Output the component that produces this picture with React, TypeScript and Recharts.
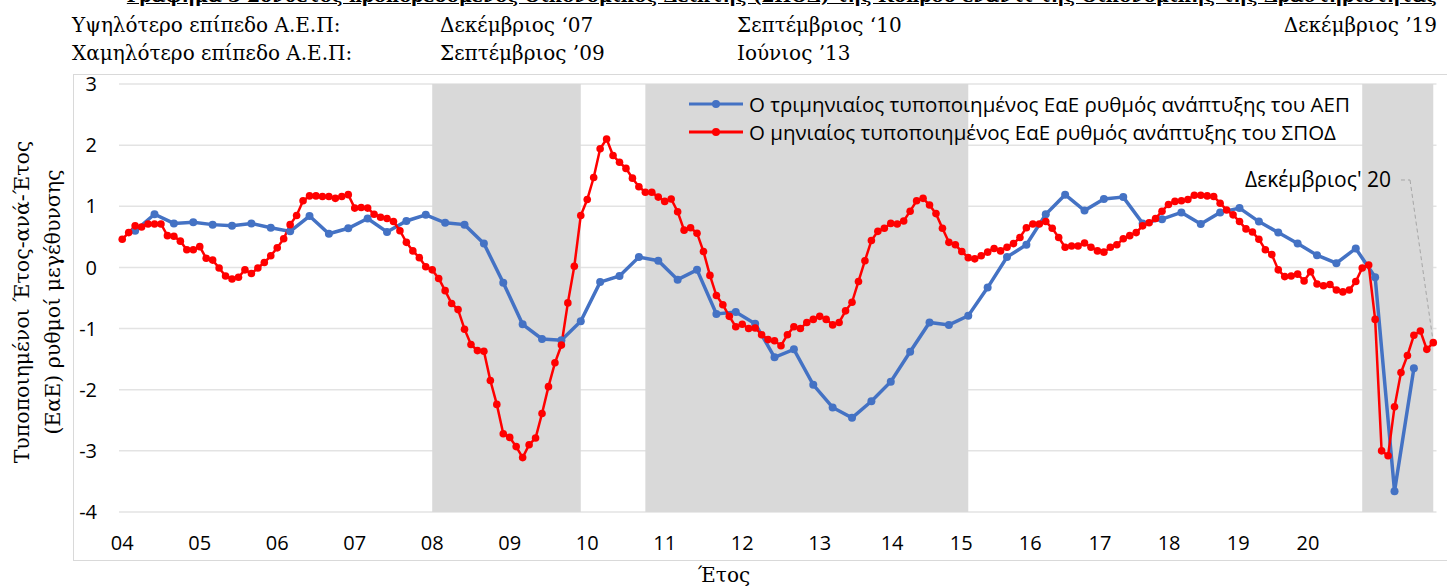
import React from "react";
import {
  CartesianGrid,
  Legend,
  Line,
  LineChart,
  ReferenceArea,
  ReferenceLine,
  XAxis,
  YAxis,
} from "recharts";

// monthly standardised y-o-y growth of the composite leading indicator, Jan 2004 .. Dec 2020
const spodMonthly = [
  0.46, 0.57, 0.68, 0.66, 0.71, 0.71, 0.71, 0.52, 0.51, 0.43, 0.29, 0.29,
  0.34, 0.15, 0.12, -0.01, -0.14, -0.19, -0.16, -0.04, -0.1, -0.01, 0.08, 0.19,
  0.32, 0.47, 0.7, 0.85, 1.09, 1.17, 1.17, 1.16, 1.16, 1.13, 1.16, 1.19,
  0.97, 0.98, 0.97, 0.87, 0.82, 0.8, 0.75, 0.6, 0.41, 0.27, 0.16, 0.01,
  -0.04, -0.18, -0.38, -0.59, -0.69, -1.01, -1.26, -1.36, -1.37, -1.85, -2.24, -2.72,
  -2.78, -2.93, -3.11, -2.9, -2.79, -2.39, -1.95, -1.56, -1.27, -0.58, 0.02, 0.85,
  1.11, 1.47, 1.94, 2.1, 1.83, 1.72, 1.62, 1.46, 1.32, 1.23, 1.23, 1.15,
  1.08, 1.12, 0.91, 0.61, 0.65, 0.56, 0.26, -0.13, -0.46, -0.61, -0.8, -0.97,
  -0.93, -1.0, -0.99, -1.1, -1.18, -1.2, -1.28, -1.1, -0.97, -1.0, -0.9, -0.85,
  -0.8, -0.85, -0.94, -0.9, -0.71, -0.57, -0.23, 0.11, 0.44, 0.59, 0.64, 0.72,
  0.71, 0.76, 0.92, 1.09, 1.13, 1.02, 0.88, 0.64, 0.41, 0.37, 0.26, 0.16,
  0.14, 0.19, 0.25, 0.31, 0.27, 0.33, 0.39, 0.49, 0.65, 0.71, 0.71, 0.75,
  0.64, 0.49, 0.33, 0.35, 0.35, 0.4, 0.33, 0.27, 0.25, 0.33, 0.37, 0.47,
  0.52, 0.57, 0.68, 0.73, 0.8, 0.92, 1.03, 1.08, 1.09, 1.11, 1.18, 1.18,
  1.17, 1.16, 1.05, 0.94, 0.86, 0.75, 0.63, 0.58, 0.46, 0.29, 0.21, -0.04,
  -0.15, -0.14, -0.11, -0.22, -0.07, -0.27, -0.3, -0.28, -0.37, -0.4, -0.37, -0.23,
  -0.01, 0.04, -0.85, -3.0, -3.08, -2.28, -1.72, -1.44, -1.11, -1.04, -1.34, -1.23,
];

// quarterly standardised y-o-y GDP growth, Q1 2004 .. Q3 2020 (plotted at the quarter's last month)
const gdpQuarterly = [
  0.6, 0.87, 0.72, 0.74, 0.7, 0.68, 0.72, 0.65, 0.59, 0.84, 0.55, 0.64,
  0.8, 0.58, 0.76, 0.86, 0.73, 0.7, 0.39, -0.25, -0.93, -1.17, -1.19, -0.88,
  -0.24, -0.14, 0.17, 0.11, -0.2, -0.04, -0.76, -0.73, -0.92, -1.47, -1.34, -1.92,
  -2.29, -2.46, -2.19, -1.87, -1.38, -0.9, -0.94, -0.79, -0.33, 0.17, 0.37, 0.87,
  1.19, 0.93, 1.12, 1.15, 0.72, 0.79, 0.9, 0.71, 0.9, 0.97, 0.75, 0.57,
  0.39, 0.2, 0.07, 0.31, -0.16, -3.66, -1.65,
];
const gdpFirstMonth = 2;

const yearLabels = ["04", "05", "06", "07", "08", "09", "10", "11", "12", "13", "14", "15", "16", "17", "18", "19", "20"];
// where each year label sits on the month axis in the original
const yearLabelAt = [0, 12, 24, 36, 48, 60, 72, 84, 96, 108, 119.2, 129.9, 140.6, 151.4, 162.1, 172.8, 183.6];

const yTicks = [-4, -3, -2, -1, 0, 1, 2, 3];

// shaded periods (month index from / to)
const shaded = [
  { from: 48, to: 71 },
  { from: 81, to: 131 },
  { from: 192, to: 203 },
];

const gdpName = "Ο τριμηνιαίος τυποποιημένος ΕαΕ ρυθμός ανάπτυξης του ΑΕΠ";
const spodName = "Ο μηνιαίος τυποποιημένος ΕαΕ ρυθμός ανάπτυξης του ΣΠΟΔ";
const seriesOrder = [gdpName, spodName];

const data = spodMonthly.map((v, i) => {
  const q = i - gdpFirstMonth;
  const gdp = q >= 0 && q % 3 === 0 ? gdpQuarterly[q / 3] ?? null : null;
  return { m: i, spod: v, gdp };
});

const sans = "'Open Sans', sans-serif";
const serif = "'DejaVu Serif', serif";

const renderLegend = (props: any) => {
  const items = [...props.payload].sort(
    (a: any, b: any) => seriesOrder.indexOf(a.value) - seriesOrder.indexOf(b.value)
  );
  return (
    <div style={{ fontFamily: sans, fontSize: 20.5, color: "#000" }}>
      {items.map((p: any) => (
        <div key={p.value} style={{ display: "flex", alignItems: "center", height: 28 }}>
          <svg width={56} height={14} style={{ marginRight: 5 }}>
            <line x1={1} y1={7} x2={55} y2={7} stroke={p.color} strokeWidth={3} />
            <circle cx={28} cy={7} r={4} fill={p.color} />
          </svg>
          <span style={{ whiteSpace: "nowrap" }}>{p.value}</span>
        </div>
      ))}
    </div>
  );
};

const headerStyle: React.CSSProperties = {
  position: "absolute",
  fontFamily: serif,
  fontSize: 20,
  lineHeight: "22px",
  whiteSpace: "nowrap",
};

const headerText = (text: string, left: number, top: number) => (
  <div style={{ ...headerStyle, left, top }}>{text}</div>
);

export default function App() {
  return (
    <div style={{ position: "relative", width: 1447, height: 587, overflow: "hidden", background: "#fff" }}>
      <style>{"body{margin:0}"}</style>
      <div
        style={{
          position: "absolute",
          right: 10,
          top: -15,
          fontFamily: serif,
          fontSize: 18,
          fontWeight: "bold",
          textDecoration: "underline",
          whiteSpace: "nowrap",
          lineHeight: "22px",
        }}
      >
        Γράφημα 3 Σύνθετος προπορευόμενος Οικονομικός Δείκτης (ΣΠΟΔ) της Κύπρου έναντι της Οικονομικής της Δραστηριότητας
      </div>
      {headerText("Υψηλότερο επίπεδο Α.Ε.Π:", 72, 14)}
      {headerText("Χαμηλότερο επίπεδο Α.Ε.Π:", 72, 42)}
      {headerText("Δεκέμβριος ‘07", 440, 14)}
      {headerText("Σεπτέμβριος ’09", 440, 42)}
      {headerText("Σεπτέμβριος ‘10", 737, 14)}
      {headerText("Ιούνιος ’13", 737, 42)}
      <div style={{ ...headerStyle, right: 10, top: 14 }}>Δεκέμβριος ’19</div>
      <div
        style={{
          position: "absolute",
          left: 73,
          top: 74,
          width: 1400,
          height: 485,
          border: "1.5px solid #d9d9d9",
        }}
      />
      <div style={{ position: "absolute", left: 0, top: 0 }}>
        <LineChart
          width={1447}
          height={587}
          data={data}
          margin={{ top: 84, right: 10.5, bottom: 45, left: 69 }}
        >
          {shaded.map((s) => (
            <ReferenceArea
              key={s.from}
              x1={s.from}
              x2={s.to}
              y1={-4}
              y2={3}
              fill="#d9d9d9"
              fillOpacity={1}
              stroke="none"
            />
          ))}
          <CartesianGrid vertical={false} stroke="#e3e3e3" strokeWidth={1.5} />
          <XAxis
            type="number"
            dataKey="m"
            domain={[-0.5, 203.5]}
            ticks={yearLabelAt}
            interval={0}
            tickFormatter={(v: number) => yearLabels[yearLabelAt.indexOf(v)]}
            axisLine={false}
            tickLine={false}
            tickSize={0}
            tickMargin={24}
            height={30}
            tick={{ fontFamily: sans, fontSize: 20, fill: "#000" }}
          />
          <YAxis
            type="number"
            domain={[-4, 3]}
            ticks={yTicks}
            interval={0}
            axisLine={false}
            tickLine={false}
            tickSize={0}
            tickMargin={22}
            width={50}
            tick={{ fontFamily: sans, fontSize: 20, fill: "#000" }}
          />
          <Legend
            layout="vertical"
            verticalAlign="middle"
            align="center"
            content={renderLegend}
            wrapperStyle={{ left: 688, top: 90, width: "auto" }}
          />
          <ReferenceLine
            segment={[
              { x: 198, y: 1.43 },
              { x: 199.4, y: 1.43 },
            ]}
            stroke="#a6a6a6"
            strokeDasharray="4 3"
            label={{ value: "Δεκέμβριος' 20", position: "left", offset: 10, fontFamily: sans, fontSize: 21, fill: "#000" }}
          />
          <ReferenceLine
            segment={[
              { x: 199.4, y: 1.43 },
              { x: 203, y: spodMonthly[spodMonthly.length - 1] },
            ]}
            stroke="#a6a6a6"
            strokeDasharray="4 3"
          />
          <Line
            name={gdpName}
            dataKey="gdp"
            stroke="#4472C4"
            strokeWidth={3.5}
            dot={{ r: 4, fill: "#4472C4", stroke: "none" }}
            connectNulls
            isAnimationActive={false}
          />
          <Line
            name={spodName}
            dataKey="spod"
            stroke="#FF0000"
            strokeWidth={2.5}
            dot={{ r: 3.8, fill: "#FF0000", stroke: "none" }}
            isAnimationActive={false}
          />
        </LineChart>
      </div>
      <div
        style={{
          position: "absolute",
          left: 22,
          top: 302,
          transform: "translate(-50%, -50%) rotate(-90deg)",
          fontFamily: serif,
          fontSize: 20.5,
          whiteSpace: "nowrap",
        }}
      >
        Τυποποιημένοι Έτος-ανά-Έτος
      </div>
      <div
        style={{
          position: "absolute",
          left: 53,
          top: 302,
          transform: "translate(-50%, -50%) rotate(-90deg)",
          fontFamily: serif,
          fontSize: 20.5,
          whiteSpace: "nowrap",
        }}
      >
        (ΕαΕ) ρυθμοί μεγέθυνσης
      </div>
      <div
        style={{
          position: "absolute",
          left: 724,
          top: 563,
          transform: "translateX(-50%)",
          fontFamily: serif,
          fontSize: 20,
          lineHeight: "24px",
        }}
      >
        Έτος
      </div>
    </div>
  );
}
